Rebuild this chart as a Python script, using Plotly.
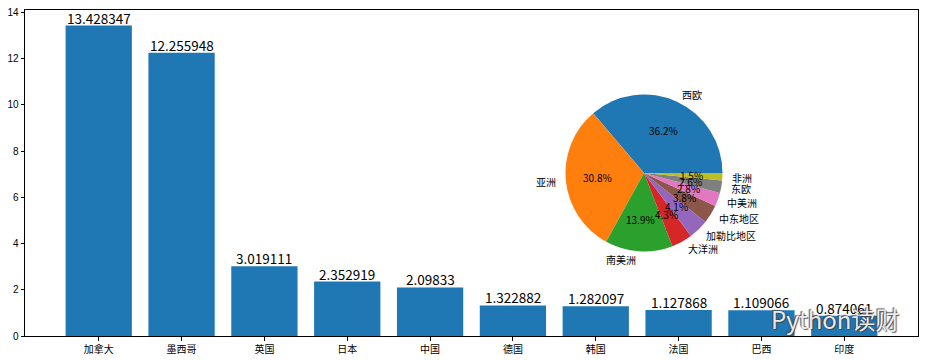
import math
import plotly.graph_objects as go

# ---- data ----
countries = ["加拿大", "墨西哥", "英国", "日本", "中国", "德国", "韩国", "法国", "巴西", "印度"]
values = [13.428347, 12.255948, 3.019111, 2.352919, 2.09833, 1.322882, 1.282097, 1.127868, 1.109066, 0.874061]

regions = ["西欧", "亚洲", "南美洲", "大洋洲", "加勒比地区", "中东地区", "中美洲", "东欧", "非洲"]
shares = [36.2, 30.8, 13.9, 4.3, 4.1, 3.8, 2.8, 2.6, 1.5]
pie_colors = ["#1f77b4", "#ff7f0e", "#2ca02c", "#d62728", "#9467bd",
              "#8c564b", "#e377c2", "#7f7f7f", "#bcbd22"]

FONT = "Noto Sans CJK SC"
W, H = 927, 360
L, R, T, B = 25, 9, 10, 24
pw, ph = W - L - R, H - T - B

fig = go.Figure()
fig.add_trace(go.Bar(
    x=list(range(len(countries))), y=values, width=0.8,
    marker=dict(color="#1f77b4", line=dict(width=0)),
    showlegend=False, hoverinfo="x+y",
))

annotations = []
# bar value labels (anchored at bar tops in data coordinates)
for i, v in enumerate(values):
    annotations.append(dict(xref="x", yref="y", x=i, y=v, text=str(v),
                            showarrow=False, xanchor="center", yanchor="bottom",
                            yshift=-4, font=dict(family=FONT, size=13.5, color="black")))

# pie geometry (pixels)
cx, cy, rad = 644, 173, 78.5
dom_x = [(cx - rad - L) / pw, (cx + rad - L) / pw]
dom_y = [(H - B - cy - rad) / ph, (H - B - cy + rad) / ph]

total = sum(shares)
# plotly: for counterclockwise pies the first slice ends at the rotation angle
rotation = 90 - shares[0] / total * 360

fig.add_trace(go.Pie(
    labels=regions, values=shares, sort=False, direction="counterclockwise",
    rotation=rotation, marker=dict(colors=pie_colors, line=dict(width=0)),
    textinfo="none", hoverinfo="label+percent", showlegend=False,
    domain=dict(x=dom_x, y=dom_y),
))

start = 0.0
for lab, s in zip(regions, shares):
    mid = math.radians((start + s / 2) / total * 360)
    start += s
    px = cx + 0.6 * rad * math.cos(mid)
    py = cy - 0.6 * rad * math.sin(mid)
    annotations.append(dict(xref="paper", yref="paper",
                            x=(px - L) / pw, y=(H - B - py) / ph,
                            text=f"{s:.1f}%", showarrow=False,
                            xanchor="center", yanchor="middle",
                            font=dict(family=FONT, size=10, color="black")))
    lx = cx + 1.1 * rad * math.cos(mid)
    ly = cy - 1.1 * rad * math.sin(mid)
    annotations.append(dict(xref="paper", yref="paper",
                            x=(lx - L) / pw, y=(H - B - ly) / ph,
                            text=lab, showarrow=False,
                            xanchor="left" if math.cos(mid) > 0 else "right",
                            yanchor="middle",
                            font=dict(family=FONT, size=10, color="black")))

# watermark
annotations.append(dict(xref="paper", yref="paper", x=(835 - L) / pw, y=(H - B - 318) / ph,
                        text="Python读财", showarrow=False, xanchor="center", yanchor="middle",
                        font=dict(family=FONT, size=24, color="rgba(255,255,255,0.9)",
                                  shadow="1px 1px 1px #444, -1px -1px 1px #444")))

fig.update_layout(
    width=W, height=H,
    margin=dict(l=L, r=R, t=T, b=B, pad=0, autoexpand=False),
    paper_bgcolor="white", plot_bgcolor="white",
    font=dict(family=FONT, size=10, color="black"),
    annotations=annotations,
    xaxis=dict(range=[-0.89, 9.89], tickmode="array", tickvals=list(range(len(countries))),
               ticktext=countries, showline=True, linecolor="black", linewidth=1,
               mirror=True, ticks="outside", ticklen=3.5, tickcolor="black",
               showgrid=False, zeroline=False, automargin=False,
               tickfont=dict(family=FONT, size=10)),
    yaxis=dict(range=[0, 14.1], tickvals=[0, 2, 4, 6, 8, 10, 12, 14],
               showline=True, linecolor="black", linewidth=1, mirror=True,
               ticks="outside", ticklen=3.5, tickcolor="black",
               showgrid=False, zeroline=False, automargin=False,
               tickfont=dict(family="Liberation Sans", size=10)),
)

fig.write_html("out.html", config={"displayModeBar": False},
               post_script="document.body.style.margin='0';document.body.style.padding='0';"
                           "document.documentElement.style.overflow='hidden';")
